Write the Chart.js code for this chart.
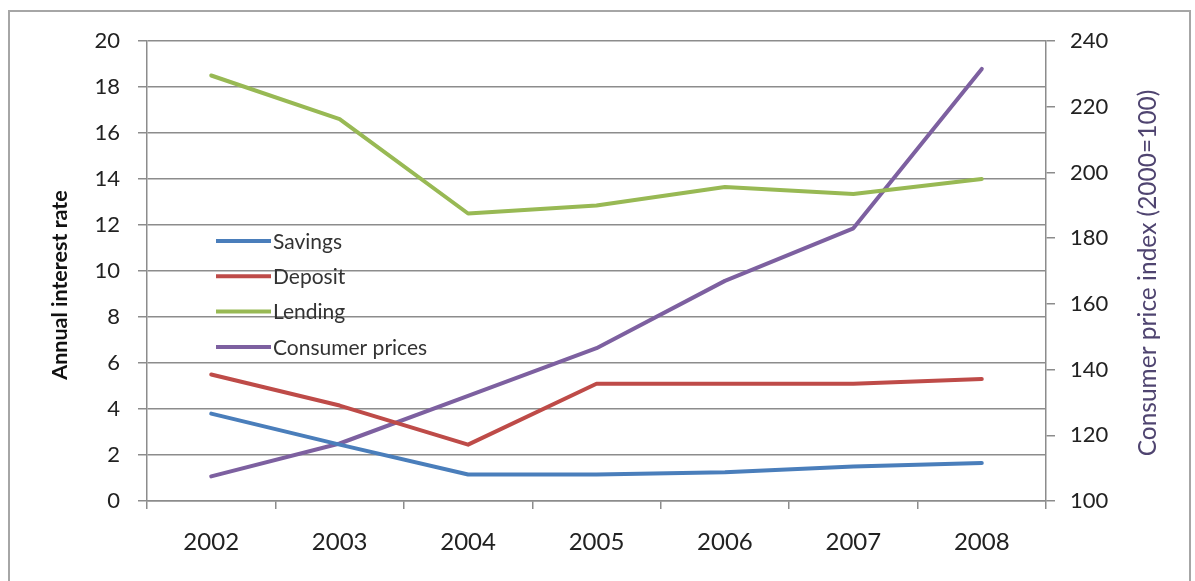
<!DOCTYPE html>
<html>
<head>
<meta charset="utf-8">
<script src="https://cdn.jsdelivr.net/npm/chart.js@4/dist/chart.umd.min.js"></script>
<style>
  html, body { margin: 0; padding: 0; background: #fff; }
  #wrap { position: relative; width: 1195px; height: 581px; }
  #frame { position: absolute; left: 8px; top: 10px; width: 1183px; height: 580px; border: 2px solid #a6a6a6; box-sizing: border-box; }
  canvas { position: absolute; left: 0; top: 0; }
</style>
</head>
<body>
<div id="wrap">
  <div id="frame"></div>
  <canvas id="chart" width="1195" height="581"></canvas>
</div>
<script>
const years    = ['2002', '2003', '2004', '2005', '2006', '2007', '2008'];
const savings  = [3.8, 2.45, 1.15, 1.15, 1.25, 1.5, 1.65];
const deposit  = [5.5, 4.15, 2.45, 5.1, 5.1, 5.1, 5.3];
const lending  = [18.5, 16.6, 12.5, 12.85, 13.65, 13.35, 14.0];
const consumer = [107.5, 117.5, 132, 146.5, 167, 183, 231.5];

const leftTitle  = 'Annual interest rate';
const rightTitle = 'Consumer price index (2000=100)';

const FONT = 'Lato, "Open Sans", sans-serif';
const $ = id => document.getElementById(id);

// legend inside the plot area + both axis titles reading bottom-to-top
const extras = {
  id: 'extras',
  afterDraw(chart) {
    const ctx = chart.ctx;
    const x0 = 216, y0 = 241, gap = 35.3;
    ctx.save();
    ctx.font = '21px ' + FONT;
    ctx.textBaseline = 'middle';
    chart.data.datasets.forEach((ds, i) => {
      const y = y0 + i * gap;
      ctx.strokeStyle = ds.borderColor;
      ctx.lineWidth = 4;
      ctx.beginPath(); ctx.moveTo(x0, y); ctx.lineTo(x0 + 55, y); ctx.stroke();
      ctx.fillStyle = '#333';
      ctx.fillText(ds.label, x0 + 57, y + 1);
    });

    ctx.textAlign = 'center';
    ctx.translate(60, 285);
    ctx.rotate(-Math.PI / 2);
    ctx.font = 'bold 21.5px ' + FONT;
    ctx.fillStyle = '#111';
    ctx.fillText(leftTitle, 0, 0);
    ctx.restore();

    ctx.save();
    ctx.textAlign = 'center';
    ctx.textBaseline = 'middle';
    ctx.translate(1148, 273);
    ctx.rotate(-Math.PI / 2);
    ctx.font = '24.5px ' + FONT;
    ctx.fillStyle = '#4f4470';
    ctx.fillText(rightTitle, 0, 0);
    ctx.restore();
  }
};

const line = (label, data, color, axis) => ({
  label, data, yAxisID: axis,
  borderColor: color, backgroundColor: color,
  borderWidth: 4, pointRadius: 0, tension: 0,
  borderCapStyle: 'round', borderJoinStyle: 'round'
});

new Chart($('chart').getContext('2d'), {
  type: 'line',
  data: {
    labels: years,
    datasets: [
      line('Savings', savings, '#4a7ebb', 'y'),
      line('Deposit', deposit, '#be4b48', 'y'),
      line('Lending', lending, '#98b954', 'y'),
      line('Consumer prices', consumer, '#7d60a0', 'y2')
    ]
  },
  options: {
    responsive: false,
    animation: false,
    layout: { padding: { left: 0, right: 0, top: 41, bottom: 0 } },
    plugins: { legend: { display: false }, tooltip: { enabled: false } },
    scales: {
      x: {
        offset: true,
        grid: { offset: true, drawOnChartArea: false, color: '#8c8c8c', lineWidth: 1.5, tickLength: 8 },
        border: { color: '#8c8c8c', width: 1.5 },
        ticks: { color: '#222', font: { family: FONT, size: 24 }, padding: 19 },
        afterFit: s => { s.height = 80; }
      },
      y: {
        position: 'left',
        min: 0, max: 20,
        ticks: { stepSize: 2, color: '#222', font: { family: FONT, size: 22 }, padding: 18 },
        grid: { color: '#8c8c8c', lineWidth: 1.5, tickLength: 9 },
        border: { color: '#8c8c8c', width: 1.5 },
        afterFit: s => { s.width = 147; }
      },
      y2: {
        position: 'right',
        min: 100, max: 240,
        ticks: { stepSize: 20, color: '#222', font: { family: FONT, size: 22 }, padding: 15 },
        grid: { drawOnChartArea: false, color: '#8c8c8c', lineWidth: 1.5, tickLength: 9 },
        border: { color: '#8c8c8c', width: 1.5 },
        afterFit: s => { s.width = 149; }
      }
    }
  },
  plugins: [extras]
});
</script>
</body>
</html>
